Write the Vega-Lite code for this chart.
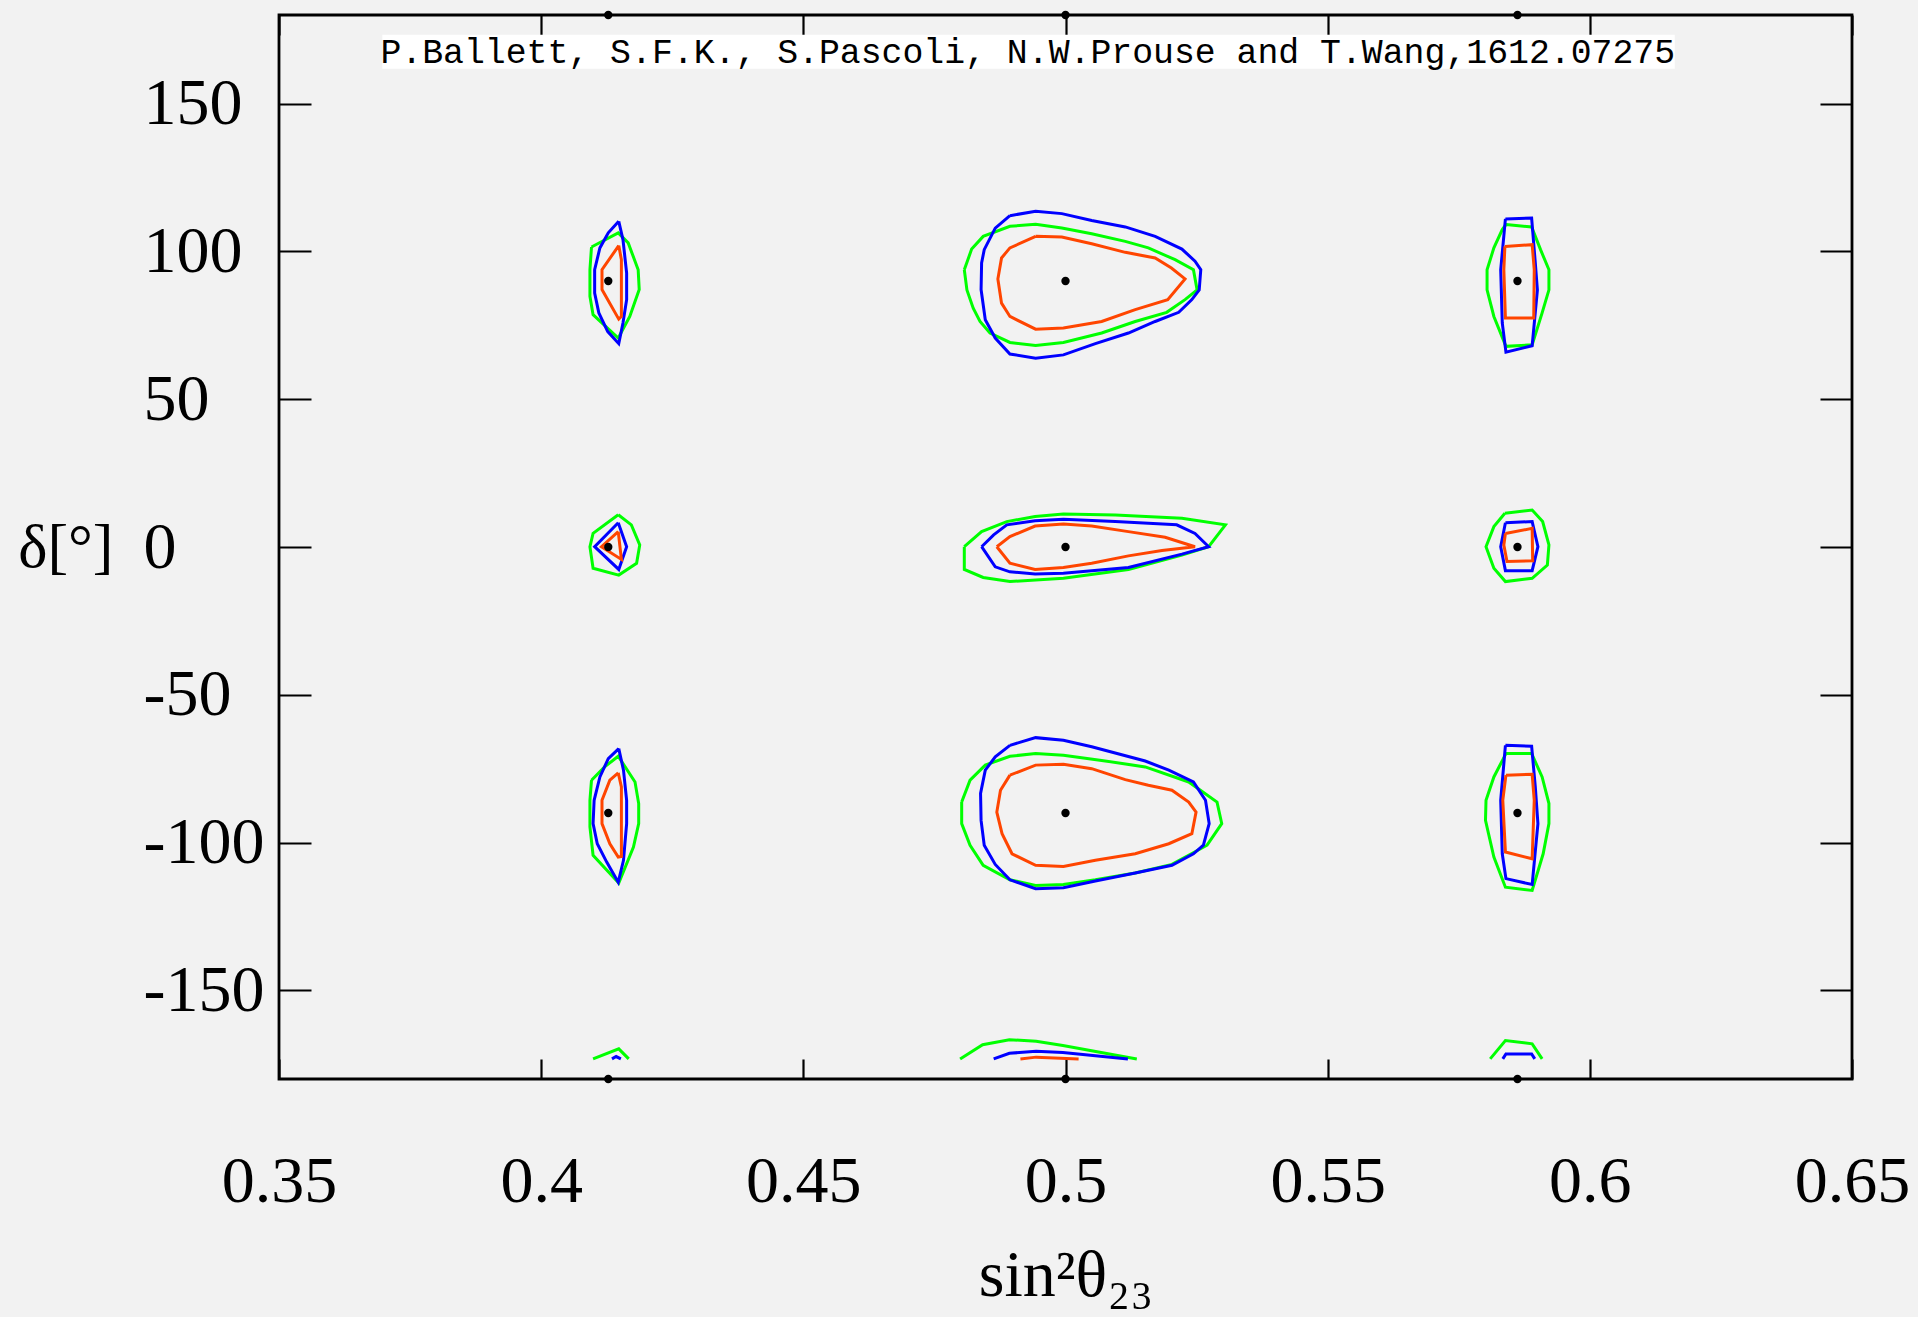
{
 "$schema": "https://vega.github.io/schema/vega-lite/v6.json",
 "width": 1573, "height": 1064,
 "autosize": {"type": "none"},
 "padding": {"left": 279, "top": 15, "right": 66, "bottom": 238},
 "background": "#f2f2f2",
 "config": {
  "view": {"stroke": "black", "strokeWidth": 2.8},
  "axis": {"domain": false, "grid": false, "tickColor": "black", "tickWidth": 2.2, "labelColor": "black", "labelFont": "Liberation Serif", "labelFontSize": 66, "titleFont": "Liberation Serif", "titleFontSize": 66, "titleFontWeight": "normal", "titleColor": "black"}
 },
 "datasets": {
  "contours": [
   {"g":"TL","s":"C","i":0,"x":0.4096,"y":101.5},{"g":"TL","s":"C","i":1,"x":0.4147,"y":106.3},{"g":"TL","s":"C","i":2,"x":0.4166,"y":102.9},{"g":"TL","s":"C","i":3,"x":0.4185,"y":93.8},{"g":"TL","s":"C","i":4,"x":0.4187,"y":87.1},{"g":"TL","s":"C","i":5,"x":0.4169,"y":78.0},{"g":"TL","s":"C","i":6,"x":0.4147,"y":70.7},{"g":"TL","s":"C","i":7,"x":0.4099,"y":78.6},{"g":"TL","s":"C","i":8,"x":0.4093,"y":84.8},{"g":"TL","s":"C","i":9,"x":0.4093,"y":93.8},{"g":"TL","s":"C","i":10,"x":0.4096,"y":101.5},
   {"g":"TC","s":"C","i":0,"x":0.4807,"y":93.8},{"g":"TC","s":"C","i":1,"x":0.4821,"y":100.8},{"g":"TC","s":"C","i":2,"x":0.4843,"y":105.1},{"g":"TC","s":"C","i":3,"x":0.4894,"y":108.5},{"g":"TC","s":"C","i":4,"x":0.4943,"y":109.2},{"g":"TC","s":"C","i":5,"x":0.4993,"y":107.9},{"g":"TC","s":"C","i":6,"x":0.5050,"y":106.0},{"g":"TC","s":"C","i":7,"x":0.5114,"y":103.4},{"g":"TC","s":"C","i":8,"x":0.5158,"y":101.2},{"g":"TC","s":"C","i":9,"x":0.5209,"y":97.2},{"g":"TC","s":"C","i":10,"x":0.5244,"y":93.8},{"g":"TC","s":"C","i":11,"x":0.5251,"y":87.0},{"g":"TC","s":"C","i":12,"x":0.5228,"y":83.7},{"g":"TC","s":"C","i":13,"x":0.5193,"y":79.4},{"g":"TC","s":"C","i":14,"x":0.5133,"y":76.3},{"g":"TC","s":"C","i":15,"x":0.5069,"y":72.4},{"g":"TC","s":"C","i":16,"x":0.4996,"y":69.2},{"g":"TC","s":"C","i":17,"x":0.4943,"y":68.2},{"g":"TC","s":"C","i":18,"x":0.4894,"y":69.2},{"g":"TC","s":"C","i":19,"x":0.4856,"y":72.4},{"g":"TC","s":"C","i":20,"x":0.4837,"y":76.3},{"g":"TC","s":"C","i":21,"x":0.4824,"y":80.8},{"g":"TC","s":"C","i":22,"x":0.4812,"y":87.0},{"g":"TC","s":"C","i":23,"x":0.4807,"y":93.8},
   {"g":"TR","s":"C","i":0,"x":0.5840,"y":109.1},{"g":"TR","s":"C","i":1,"x":0.5889,"y":108.3},{"g":"TR","s":"C","i":2,"x":0.5906,"y":100.6},{"g":"TR","s":"C","i":3,"x":0.5922,"y":93.8},{"g":"TR","s":"C","i":4,"x":0.5922,"y":87.0},{"g":"TR","s":"C","i":5,"x":0.5909,"y":79.2},{"g":"TR","s":"C","i":6,"x":0.5890,"y":68.4},{"g":"TR","s":"C","i":7,"x":0.5840,"y":67.9},{"g":"TR","s":"C","i":8,"x":0.5817,"y":78.0},{"g":"TR","s":"C","i":9,"x":0.5804,"y":87.0},{"g":"TR","s":"C","i":10,"x":0.5804,"y":93.8},{"g":"TR","s":"C","i":11,"x":0.5817,"y":101.2},{"g":"TR","s":"C","i":12,"x":0.5833,"y":107.4},{"g":"TR","s":"C","i":13,"x":0.5840,"y":109.1},
   {"g":"ML","s":"C","i":0,"x":0.4147,"y":10.9},{"g":"ML","s":"C","i":1,"x":0.4172,"y":7.5},{"g":"ML","s":"C","i":2,"x":0.4188,"y":0.7},{"g":"ML","s":"C","i":3,"x":0.4182,"y":-5.5},{"g":"ML","s":"C","i":4,"x":0.4148,"y":-9.5},{"g":"ML","s":"C","i":5,"x":0.4099,"y":-7.2},{"g":"ML","s":"C","i":6,"x":0.4093,"y":0.1},{"g":"ML","s":"C","i":7,"x":0.4099,"y":4.6},{"g":"ML","s":"C","i":8,"x":0.4147,"y":10.9},
   {"g":"MC","s":"C","i":0,"x":0.4807,"y":0.1},{"g":"MC","s":"C","i":1,"x":0.4840,"y":5.2},{"g":"MC","s":"C","i":2,"x":0.4888,"y":8.6},{"g":"MC","s":"C","i":3,"x":0.4942,"y":10.3},{"g":"MC","s":"C","i":4,"x":0.4996,"y":11.2},{"g":"MC","s":"C","i":5,"x":0.5095,"y":10.8},{"g":"MC","s":"C","i":6,"x":0.5222,"y":9.7},{"g":"MC","s":"C","i":7,"x":0.5305,"y":7.5},{"g":"MC","s":"C","i":8,"x":0.5273,"y":0.1},{"g":"MC","s":"C","i":9,"x":0.5222,"y":-2.7},{"g":"MC","s":"C","i":10,"x":0.5120,"y":-7.6},{"g":"MC","s":"C","i":11,"x":0.4996,"y":-10.6},{"g":"MC","s":"C","i":12,"x":0.4894,"y":-11.7},{"g":"MC","s":"C","i":13,"x":0.4843,"y":-10.3},{"g":"MC","s":"C","i":14,"x":0.4807,"y":-7.6},{"g":"MC","s":"C","i":15,"x":0.4807,"y":0.1},
   {"g":"MR","s":"C","i":0,"x":0.5838,"y":11.4},{"g":"MR","s":"C","i":1,"x":0.5890,"y":12.5},{"g":"MR","s":"C","i":2,"x":0.5910,"y":8.6},{"g":"MR","s":"C","i":3,"x":0.5922,"y":0.7},{"g":"MR","s":"C","i":4,"x":0.5919,"y":-6.1},{"g":"MR","s":"C","i":5,"x":0.5890,"y":-10.6},{"g":"MR","s":"C","i":6,"x":0.5839,"y":-11.7},{"g":"MR","s":"C","i":7,"x":0.5817,"y":-7.2},{"g":"MR","s":"C","i":8,"x":0.5802,"y":0.1},{"g":"MR","s":"C","i":9,"x":0.5817,"y":6.9},{"g":"MR","s":"C","i":10,"x":0.5838,"y":11.4},
   {"g":"BL","s":"C","i":0,"x":0.4096,"y":-78.9},{"g":"BL","s":"C","i":1,"x":0.4121,"y":-74.4},{"g":"BL","s":"C","i":2,"x":0.4147,"y":-70.8},{"g":"BL","s":"C","i":3,"x":0.4179,"y":-79.5},{"g":"BL","s":"C","i":4,"x":0.4186,"y":-86.8},{"g":"BL","s":"C","i":5,"x":0.4186,"y":-93.6},{"g":"BL","s":"C","i":6,"x":0.4176,"y":-101.5},{"g":"BL","s":"C","i":7,"x":0.4148,"y":-113.7},{"g":"BL","s":"C","i":8,"x":0.4099,"y":-104.3},{"g":"BL","s":"C","i":9,"x":0.4093,"y":-94.7},{"g":"BL","s":"C","i":10,"x":0.4093,"y":-85.7},{"g":"BL","s":"C","i":11,"x":0.4096,"y":-78.9},
   {"g":"BC","s":"C","i":0,"x":0.4802,"y":-86.3},{"g":"BC","s":"C","i":1,"x":0.4818,"y":-78.9},{"g":"BC","s":"C","i":2,"x":0.4847,"y":-73.8},{"g":"BC","s":"C","i":3,"x":0.4894,"y":-70.8},{"g":"BC","s":"C","i":4,"x":0.4943,"y":-69.9},{"g":"BC","s":"C","i":5,"x":0.4996,"y":-70.5},{"g":"BC","s":"C","i":6,"x":0.5069,"y":-72.2},{"g":"BC","s":"C","i":7,"x":0.5152,"y":-74.4},{"g":"BC","s":"C","i":8,"x":0.5235,"y":-79.5},{"g":"BC","s":"C","i":9,"x":0.5289,"y":-86.3},{"g":"BC","s":"C","i":10,"x":0.5298,"y":-93.6},{"g":"BC","s":"C","i":11,"x":0.5270,"y":-100.9},{"g":"BC","s":"C","i":12,"x":0.5203,"y":-107.4},{"g":"BC","s":"C","i":13,"x":0.5133,"y":-110.3},{"g":"BC","s":"C","i":14,"x":0.5057,"y":-112.6},{"g":"BC","s":"C","i":15,"x":0.4996,"y":-114.2},{"g":"BC","s":"C","i":16,"x":0.4943,"y":-114.5},{"g":"BC","s":"C","i":17,"x":0.4894,"y":-112.6},{"g":"BC","s":"C","i":18,"x":0.4843,"y":-107.7},{"g":"BC","s":"C","i":19,"x":0.4818,"y":-100.9},{"g":"BC","s":"C","i":20,"x":0.4802,"y":-93.6},{"g":"BC","s":"C","i":21,"x":0.4802,"y":-86.3},
   {"g":"BR","s":"C","i":0,"x":0.5840,"y":-69.9},{"g":"BR","s":"C","i":1,"x":0.5889,"y":-69.9},{"g":"BR","s":"C","i":2,"x":0.5909,"y":-77.8},{"g":"BR","s":"C","i":3,"x":0.5922,"y":-86.8},{"g":"BR","s":"C","i":4,"x":0.5922,"y":-93.6},{"g":"BR","s":"C","i":5,"x":0.5911,"y":-103.8},{"g":"BR","s":"C","i":6,"x":0.5890,"y":-116.2},{"g":"BR","s":"C","i":7,"x":0.5839,"y":-115.1},{"g":"BR","s":"C","i":8,"x":0.5817,"y":-104.9},{"g":"BR","s":"C","i":9,"x":0.5801,"y":-92.5},{"g":"BR","s":"C","i":10,"x":0.5802,"y":-85.7},{"g":"BR","s":"C","i":11,"x":0.5817,"y":-77.8},{"g":"BR","s":"C","i":12,"x":0.5840,"y":-69.9},
   {"g":"FL","s":"C","i":0,"x":0.4099,"y":-173.2},{"g":"FL","s":"C","i":1,"x":0.4148,"y":-169.8},{"g":"FL","s":"C","i":2,"x":0.4167,"y":-173.2},
   {"g":"FC","s":"C","i":0,"x":0.4799,"y":-173.2},{"g":"FC","s":"C","i":1,"x":0.4842,"y":-168.4},{"g":"FC","s":"C","i":2,"x":0.4893,"y":-166.7},{"g":"FC","s":"C","i":3,"x":0.4944,"y":-167.2},{"g":"FC","s":"C","i":4,"x":0.4995,"y":-168.7},{"g":"FC","s":"C","i":5,"x":0.5136,"y":-173.2},
   {"g":"FR","s":"C","i":0,"x":0.5810,"y":-173.2},{"g":"FR","s":"C","i":1,"x":0.5839,"y":-167.0},{"g":"FR","s":"C","i":2,"x":0.5890,"y":-168.1},{"g":"FR","s":"C","i":3,"x":0.5909,"y":-173.2},

   {"g":"TL","s":"B","i":0,"x":0.4148,"y":110.2},{"g":"TL","s":"B","i":1,"x":0.4156,"y":104.0},{"g":"TL","s":"B","i":2,"x":0.4163,"y":92.7},{"g":"TL","s":"B","i":3,"x":0.4163,"y":83.7},{"g":"TL","s":"B","i":4,"x":0.4156,"y":75.8},{"g":"TL","s":"B","i":5,"x":0.4148,"y":68.8},{"g":"TL","s":"B","i":6,"x":0.4127,"y":72.9},{"g":"TL","s":"B","i":7,"x":0.4110,"y":79.2},{"g":"TL","s":"B","i":8,"x":0.4102,"y":85.9},{"g":"TL","s":"B","i":9,"x":0.4102,"y":93.8},{"g":"TL","s":"B","i":10,"x":0.4112,"y":101.2},{"g":"TL","s":"B","i":11,"x":0.4128,"y":106.3},{"g":"TL","s":"B","i":12,"x":0.4148,"y":110.2},
   {"g":"TC","s":"B","i":0,"x":0.4894,"y":112.1},{"g":"TC","s":"B","i":1,"x":0.4943,"y":113.6},{"g":"TC","s":"B","i":2,"x":0.4993,"y":112.8},{"g":"TC","s":"B","i":3,"x":0.5050,"y":110.5},{"g":"TC","s":"B","i":4,"x":0.5114,"y":108.3},{"g":"TC","s":"B","i":5,"x":0.5171,"y":105.1},{"g":"TC","s":"B","i":6,"x":0.5222,"y":100.8},{"g":"TC","s":"B","i":7,"x":0.5247,"y":96.7},{"g":"TC","s":"B","i":8,"x":0.5258,"y":93.8},{"g":"TC","s":"B","i":9,"x":0.5255,"y":87.0},{"g":"TC","s":"B","i":10,"x":0.5241,"y":83.7},{"g":"TC","s":"B","i":11,"x":0.5216,"y":79.4},{"g":"TC","s":"B","i":12,"x":0.5171,"y":76.3},{"g":"TC","s":"B","i":13,"x":0.5120,"y":72.4},{"g":"TC","s":"B","i":14,"x":0.5057,"y":68.8},{"g":"TC","s":"B","i":15,"x":0.4996,"y":65.0},{"g":"TC","s":"B","i":16,"x":0.4943,"y":63.9},{"g":"TC","s":"B","i":17,"x":0.4894,"y":65.3},{"g":"TC","s":"B","i":18,"x":0.4866,"y":70.7},{"g":"TC","s":"B","i":19,"x":0.4847,"y":76.9},{"g":"TC","s":"B","i":20,"x":0.4839,"y":87.1},{"g":"TC","s":"B","i":21,"x":0.4840,"y":96.1},{"g":"TC","s":"B","i":22,"x":0.4845,"y":100.6},{"g":"TC","s":"B","i":23,"x":0.4866,"y":107.9},{"g":"TC","s":"B","i":24,"x":0.4894,"y":112.1},
   {"g":"TR","s":"B","i":0,"x":0.5839,"y":111.0},{"g":"TR","s":"B","i":1,"x":0.5889,"y":111.3},{"g":"TR","s":"B","i":2,"x":0.5896,"y":96.1},{"g":"TR","s":"B","i":3,"x":0.5900,"y":87.0},{"g":"TR","s":"B","i":4,"x":0.5890,"y":68.1},{"g":"TR","s":"B","i":5,"x":0.5840,"y":65.9},{"g":"TR","s":"B","i":6,"x":0.5833,"y":75.8},{"g":"TR","s":"B","i":7,"x":0.5830,"y":93.8},{"g":"TR","s":"B","i":8,"x":0.5839,"y":111.0},
   {"g":"ML","s":"B","i":0,"x":0.4147,"y":8.2},{"g":"ML","s":"B","i":1,"x":0.4163,"y":0.1},{"g":"ML","s":"B","i":2,"x":0.4148,"y":-7.6},{"g":"ML","s":"B","i":3,"x":0.4102,"y":0.1},{"g":"ML","s":"B","i":4,"x":0.4147,"y":8.2},
   {"g":"MC","s":"B","i":0,"x":0.4840,"y":0.1},{"g":"MC","s":"B","i":1,"x":0.4863,"y":4.1},{"g":"MC","s":"B","i":2,"x":0.4888,"y":7.5},{"g":"MC","s":"B","i":3,"x":0.4942,"y":8.9},{"g":"MC","s":"B","i":4,"x":0.4996,"y":9.4},{"g":"MC","s":"B","i":5,"x":0.5095,"y":8.6},{"g":"MC","s":"B","i":6,"x":0.5212,"y":7.5},{"g":"MC","s":"B","i":7,"x":0.5247,"y":4.6},{"g":"MC","s":"B","i":8,"x":0.5273,"y":0.1},{"g":"MC","s":"B","i":9,"x":0.5222,"y":-2.4},{"g":"MC","s":"B","i":10,"x":0.5120,"y":-6.9},{"g":"MC","s":"B","i":11,"x":0.4996,"y":-8.9},{"g":"MC","s":"B","i":12,"x":0.4942,"y":-9.1},{"g":"MC","s":"B","i":13,"x":0.4894,"y":-8.4},{"g":"MC","s":"B","i":14,"x":0.4866,"y":-6.7},{"g":"MC","s":"B","i":15,"x":0.4840,"y":0.1},
   {"g":"MR","s":"B","i":0,"x":0.5839,"y":8.2},{"g":"MR","s":"B","i":1,"x":0.5890,"y":8.6},{"g":"MR","s":"B","i":2,"x":0.5901,"y":0.1},{"g":"MR","s":"B","i":3,"x":0.5890,"y":-8.0},{"g":"MR","s":"B","i":4,"x":0.5839,"y":-8.0},{"g":"MR","s":"B","i":5,"x":0.5830,"y":0.1},{"g":"MR","s":"B","i":6,"x":0.5839,"y":8.2},
   {"g":"BL","s":"B","i":0,"x":0.4148,"y":-68.2},{"g":"BL","s":"B","i":1,"x":0.4157,"y":-75.5},{"g":"BL","s":"B","i":2,"x":0.4163,"y":-85.7},{"g":"BL","s":"B","i":3,"x":0.4163,"y":-93.6},{"g":"BL","s":"B","i":4,"x":0.4157,"y":-106.0},{"g":"BL","s":"B","i":5,"x":0.4147,"y":-113.4},{"g":"BL","s":"B","i":6,"x":0.4125,"y":-106.6},{"g":"BL","s":"B","i":7,"x":0.4107,"y":-100.4},{"g":"BL","s":"B","i":8,"x":0.4099,"y":-93.6},{"g":"BL","s":"B","i":9,"x":0.4101,"y":-85.7},{"g":"BL","s":"B","i":10,"x":0.4112,"y":-77.8},{"g":"BL","s":"B","i":11,"x":0.4128,"y":-71.6},{"g":"BL","s":"B","i":12,"x":0.4148,"y":-68.2},
   {"g":"BC","s":"B","i":0,"x":0.4894,"y":-67.1},{"g":"BC","s":"B","i":1,"x":0.4943,"y":-64.5},{"g":"BC","s":"B","i":2,"x":0.4996,"y":-65.4},{"g":"BC","s":"B","i":3,"x":0.5050,"y":-67.6},{"g":"BC","s":"B","i":4,"x":0.5152,"y":-72.4},{"g":"BC","s":"B","i":5,"x":0.5197,"y":-75.5},{"g":"BC","s":"B","i":6,"x":0.5244,"y":-79.5},{"g":"BC","s":"B","i":7,"x":0.5267,"y":-85.7},{"g":"BC","s":"B","i":8,"x":0.5274,"y":-93.6},{"g":"BC","s":"B","i":9,"x":0.5263,"y":-100.9},{"g":"BC","s":"B","i":10,"x":0.5244,"y":-103.8},{"g":"BC","s":"B","i":11,"x":0.5203,"y":-107.7},{"g":"BC","s":"B","i":12,"x":0.5133,"y":-110.3},{"g":"BC","s":"B","i":13,"x":0.5057,"y":-113.0},{"g":"BC","s":"B","i":14,"x":0.4996,"y":-115.3},{"g":"BC","s":"B","i":15,"x":0.4943,"y":-115.6},{"g":"BC","s":"B","i":16,"x":0.4894,"y":-112.6},{"g":"BC","s":"B","i":17,"x":0.4866,"y":-107.4},{"g":"BC","s":"B","i":18,"x":0.4845,"y":-100.9},{"g":"BC","s":"B","i":19,"x":0.4839,"y":-92.5},{"g":"BC","s":"B","i":20,"x":0.4838,"y":-83.4},{"g":"BC","s":"B","i":21,"x":0.4847,"y":-75.5},{"g":"BC","s":"B","i":22,"x":0.4866,"y":-71.0},{"g":"BC","s":"B","i":23,"x":0.4894,"y":-67.1},
   {"g":"BR","s":"B","i":0,"x":0.5839,"y":-67.1},{"g":"BR","s":"B","i":1,"x":0.5889,"y":-67.4},{"g":"BR","s":"B","i":2,"x":0.5896,"y":-81.2},{"g":"BR","s":"B","i":3,"x":0.5901,"y":-93.6},{"g":"BR","s":"B","i":4,"x":0.5890,"y":-114.2},{"g":"BR","s":"B","i":5,"x":0.5840,"y":-112.2},{"g":"BR","s":"B","i":6,"x":0.5833,"y":-103.8},{"g":"BR","s":"B","i":7,"x":0.5830,"y":-85.7},{"g":"BR","s":"B","i":8,"x":0.5839,"y":-67.1},
   {"g":"FL","s":"B","i":0,"x":0.4135,"y":-173.2},{"g":"FL","s":"B","i":1,"x":0.4143,"y":-172.4},{"g":"FL","s":"B","i":2,"x":0.4152,"y":-173.2},
   {"g":"FC","s":"B","i":0,"x":0.4863,"y":-173.2},{"g":"FC","s":"B","i":1,"x":0.4893,"y":-171.3},{"g":"FC","s":"B","i":2,"x":0.4944,"y":-170.6},{"g":"FC","s":"B","i":3,"x":0.4995,"y":-171.0},{"g":"FC","s":"B","i":4,"x":0.5119,"y":-173.2},
   {"g":"FR","s":"B","i":0,"x":0.5834,"y":-173.2},{"g":"FR","s":"B","i":1,"x":0.5840,"y":-171.5},{"g":"FR","s":"B","i":2,"x":0.5889,"y":-171.5},{"g":"FR","s":"B","i":3,"x":0.5895,"y":-173.2},

   {"g":"TL","s":"A","i":0,"x":0.4148,"y":102.0},{"g":"TL","s":"A","i":1,"x":0.4153,"y":97.2},{"g":"TL","s":"A","i":2,"x":0.4153,"y":78.0},{"g":"TL","s":"A","i":3,"x":0.4148,"y":77.1},{"g":"TL","s":"A","i":4,"x":0.4116,"y":87.1},{"g":"TL","s":"A","i":5,"x":0.4116,"y":93.8},{"g":"TL","s":"A","i":6,"x":0.4148,"y":102.0},
   {"g":"TC","s":"A","i":0,"x":0.4943,"y":105.1},{"g":"TC","s":"A","i":1,"x":0.4993,"y":104.9},{"g":"TC","s":"A","i":2,"x":0.5050,"y":102.6},{"g":"TC","s":"A","i":3,"x":0.5114,"y":99.7},{"g":"TC","s":"A","i":4,"x":0.5171,"y":97.8},{"g":"TC","s":"A","i":5,"x":0.5202,"y":94.4},{"g":"TC","s":"A","i":6,"x":0.5228,"y":90.7},{"g":"TC","s":"A","i":7,"x":0.5195,"y":83.7},{"g":"TC","s":"A","i":8,"x":0.5133,"y":80.3},{"g":"TC","s":"A","i":9,"x":0.5069,"y":76.3},{"g":"TC","s":"A","i":10,"x":0.4996,"y":74.1},{"g":"TC","s":"A","i":11,"x":0.4943,"y":73.7},{"g":"TC","s":"A","i":12,"x":0.4894,"y":78.0},{"g":"TC","s":"A","i":13,"x":0.4878,"y":82.5},{"g":"TC","s":"A","i":14,"x":0.4871,"y":90.7},{"g":"TC","s":"A","i":15,"x":0.4878,"y":97.8},{"g":"TC","s":"A","i":16,"x":0.4894,"y":101.2},{"g":"TC","s":"A","i":17,"x":0.4943,"y":105.1},
   {"g":"TR","s":"A","i":0,"x":0.5838,"y":101.7},{"g":"TR","s":"A","i":1,"x":0.5890,"y":102.3},{"g":"TR","s":"A","i":2,"x":0.5894,"y":93.8},{"g":"TR","s":"A","i":3,"x":0.5893,"y":77.5},{"g":"TR","s":"A","i":4,"x":0.5839,"y":77.5},{"g":"TR","s":"A","i":5,"x":0.5836,"y":93.8},{"g":"TR","s":"A","i":6,"x":0.5838,"y":101.7},
   {"g":"ML","s":"A","i":0,"x":0.4147,"y":5.2},{"g":"ML","s":"A","i":1,"x":0.4153,"y":-4.2},{"g":"ML","s":"A","i":2,"x":0.4115,"y":0.1},{"g":"ML","s":"A","i":3,"x":0.4147,"y":5.2},
   {"g":"MC","s":"A","i":0,"x":0.4869,"y":0.1},{"g":"MC","s":"A","i":1,"x":0.4894,"y":3.5},{"g":"MC","s":"A","i":2,"x":0.4942,"y":7.1},{"g":"MC","s":"A","i":3,"x":0.4996,"y":7.8},{"g":"MC","s":"A","i":4,"x":0.5050,"y":7.1},{"g":"MC","s":"A","i":5,"x":0.5120,"y":5.2},{"g":"MC","s":"A","i":6,"x":0.5190,"y":3.3},{"g":"MC","s":"A","i":7,"x":0.5247,"y":0.1},{"g":"MC","s":"A","i":8,"x":0.5184,"y":-1.2},{"g":"MC","s":"A","i":9,"x":0.5120,"y":-3.0},{"g":"MC","s":"A","i":10,"x":0.5050,"y":-5.5},{"g":"MC","s":"A","i":11,"x":0.4996,"y":-6.9},{"g":"MC","s":"A","i":12,"x":0.4942,"y":-7.6},{"g":"MC","s":"A","i":13,"x":0.4894,"y":-5.5},{"g":"MC","s":"A","i":14,"x":0.4869,"y":0.1},
   {"g":"MR","s":"A","i":0,"x":0.5839,"y":4.6},{"g":"MR","s":"A","i":1,"x":0.5890,"y":6.3},{"g":"MR","s":"A","i":2,"x":0.5891,"y":-4.7},{"g":"MR","s":"A","i":3,"x":0.5842,"y":-4.9},{"g":"MR","s":"A","i":4,"x":0.5836,"y":0.7},{"g":"MR","s":"A","i":5,"x":0.5839,"y":4.6},
   {"g":"BL","s":"A","i":0,"x":0.4147,"y":-76.4},{"g":"BL","s":"A","i":1,"x":0.4153,"y":-81.2},{"g":"BL","s":"A","i":2,"x":0.4153,"y":-104.7},{"g":"BL","s":"A","i":3,"x":0.4147,"y":-104.9},{"g":"BL","s":"A","i":4,"x":0.4131,"y":-100.4},{"g":"BL","s":"A","i":5,"x":0.4116,"y":-93.6},{"g":"BL","s":"A","i":6,"x":0.4116,"y":-85.7},{"g":"BL","s":"A","i":7,"x":0.4131,"y":-78.9},{"g":"BL","s":"A","i":8,"x":0.4147,"y":-76.4},
   {"g":"BC","s":"A","i":0,"x":0.4894,"y":-77.2},{"g":"BC","s":"A","i":1,"x":0.4943,"y":-73.8},{"g":"BC","s":"A","i":2,"x":0.4996,"y":-73.5},{"g":"BC","s":"A","i":3,"x":0.5050,"y":-75.0},{"g":"BC","s":"A","i":4,"x":0.5114,"y":-78.7},{"g":"BC","s":"A","i":5,"x":0.5158,"y":-80.6},{"g":"BC","s":"A","i":6,"x":0.5203,"y":-82.3},{"g":"BC","s":"A","i":7,"x":0.5235,"y":-86.3},{"g":"BC","s":"A","i":8,"x":0.5249,"y":-89.7},{"g":"BC","s":"A","i":9,"x":0.5241,"y":-97.0},{"g":"BC","s":"A","i":10,"x":0.5197,"y":-100.4},{"g":"BC","s":"A","i":11,"x":0.5133,"y":-103.8},{"g":"BC","s":"A","i":12,"x":0.5057,"y":-106.0},{"g":"BC","s":"A","i":13,"x":0.4996,"y":-108.1},{"g":"BC","s":"A","i":14,"x":0.4943,"y":-107.7},{"g":"BC","s":"A","i":15,"x":0.4898,"y":-103.8},{"g":"BC","s":"A","i":16,"x":0.4879,"y":-97.0},{"g":"BC","s":"A","i":17,"x":0.4869,"y":-89.7},{"g":"BC","s":"A","i":18,"x":0.4876,"y":-82.3},{"g":"BC","s":"A","i":19,"x":0.4894,"y":-77.2},
   {"g":"BR","s":"A","i":0,"x":0.5840,"y":-77.2},{"g":"BR","s":"A","i":1,"x":0.5890,"y":-76.9},{"g":"BR","s":"A","i":2,"x":0.5894,"y":-85.7},{"g":"BR","s":"A","i":3,"x":0.5890,"y":-105.5},{"g":"BR","s":"A","i":4,"x":0.5839,"y":-103.2},{"g":"BR","s":"A","i":5,"x":0.5834,"y":-85.7},{"g":"BR","s":"A","i":6,"x":0.5840,"y":-77.2},
   {"g":"FC","s":"A","i":0,"x":0.4914,"y":-173.2},{"g":"FC","s":"A","i":1,"x":0.4944,"y":-172.6},{"g":"FC","s":"A","i":2,"x":0.5025,"y":-173.2}
  ],
  "best": [
   {"x":0.4128,"y":90},{"x":0.5,"y":90},{"x":0.5862,"y":90},
   {"x":0.4128,"y":0},{"x":0.5,"y":0},{"x":0.5862,"y":0},
   {"x":0.4128,"y":-90},{"x":0.5,"y":-90},{"x":0.5862,"y":-90},
   {"x":0.4128,"y":180},{"x":0.5,"y":180},{"x":0.5862,"y":180},
   {"x":0.4128,"y":-180},{"x":0.5,"y":-180},{"x":0.5862,"y":-180}
  ],
  "note": [
   {"x1":0.3697,"x2":0.6162,"y1":161.8,"y2":173.3,"xc":0.4928,"yc":167.3,"label":"P.Ballett, S.F.K., S.Pascoli, N.W.Prouse and T.Wang,1612.07275"}
  ]
 },
 "resolve": {"axis": {"x": "independent", "y": "independent"}},
 "layer": [
  {
   "data": {"name": "contours"},
   "transform": [{"filter": "datum.s === 'C'"}],
   "mark": {"type": "line", "strokeWidth": 3, "clip": false},
   "encoding": {
    "x": {"field": "x", "type": "quantitative", "scale": {"domain": [0.35, 0.65], "nice": false, "zero": false},
          "axis": {"orient": "bottom", "values": [0.35, 0.4, 0.45, 0.5, 0.55, 0.6, 0.65], "labelExpr": "'' + datum.value", "labelFlush": false, "labelOverlap": false, "tickSize": -20, "labelPadding": 90, "title": "sin²θ₂₃", "titlePadding": 29}},
    "y": {"field": "y", "type": "quantitative", "scale": {"domain": [-180, 180], "nice": false, "zero": false},
          "axis": {"orient": "left", "values": [-150, -100, -50, 0, 50, 100, 150], "labelExpr": "'' + datum.value", "labelAlign": "left", "labelBaseline": "middle", "labelOverlap": false, "tickSize": -32, "labelPadding": 168, "title": "δ[°]", "titleAngle": 0, "titleAlign": "right", "titleBaseline": "middle", "titlePadding": 30, "titleFontSize": 62}},
    "detail": {"field": "g"},
    "order": {"field": "i", "type": "quantitative"},
    "color": {"field": "s", "type": "nominal", "scale": {"domain": ["A", "B", "C"], "range": ["#ff4500", "#0000ff", "#00ff00"]}, "legend": null}
   }
  },
  {
   "data": {"name": "contours"},
   "transform": [{"filter": "datum.s === 'B'"}],
   "mark": {"type": "line", "strokeWidth": 3, "clip": false},
   "encoding": {
    "x": {"field": "x", "type": "quantitative", "axis": {"orient": "top", "values": [0.35, 0.4, 0.45, 0.5, 0.55, 0.6, 0.65], "labels": false, "tickSize": -20, "title": null}},
    "y": {"field": "y", "type": "quantitative", "axis": {"orient": "right", "values": [-150, -100, -50, 0, 50, 100, 150], "labels": false, "tickSize": -32, "title": null}},
    "detail": {"field": "g"},
    "order": {"field": "i", "type": "quantitative"},
    "color": {"field": "s", "type": "nominal", "legend": null}
   }
  },
  {
   "data": {"name": "contours"},
   "transform": [{"filter": "datum.s === 'A'"}],
   "mark": {"type": "line", "strokeWidth": 3, "clip": false},
   "encoding": {
    "x": {"field": "x", "type": "quantitative", "axis": null},
    "y": {"field": "y", "type": "quantitative", "axis": null},
    "detail": {"field": "g"},
    "order": {"field": "i", "type": "quantitative"},
    "color": {"field": "s", "type": "nominal", "legend": null}
   }
  },
  {
   "data": {"name": "best"},
   "mark": {"type": "point", "filled": true, "color": "black", "size": 70, "opacity": 1},
   "encoding": {
    "x": {"field": "x", "type": "quantitative", "axis": null},
    "y": {"field": "y", "type": "quantitative", "axis": null}
   }
  },
  {
   "data": {"name": "note"},
   "mark": {"type": "rect", "fill": "white"},
   "encoding": {
    "x": {"field": "x1", "type": "quantitative", "axis": null},
    "x2": {"field": "x2"},
    "y": {"field": "y1", "type": "quantitative", "axis": null},
    "y2": {"field": "y2"}
   }
  },
  {
   "data": {"name": "note"},
   "mark": {"type": "text", "font": "Liberation Mono", "fontSize": 34.8, "align": "center", "baseline": "middle", "color": "black"},
   "encoding": {
    "x": {"field": "xc", "type": "quantitative", "axis": null},
    "y": {"field": "yc", "type": "quantitative", "axis": null},
    "text": {"field": "label"}
   }
  }
 ]
}
